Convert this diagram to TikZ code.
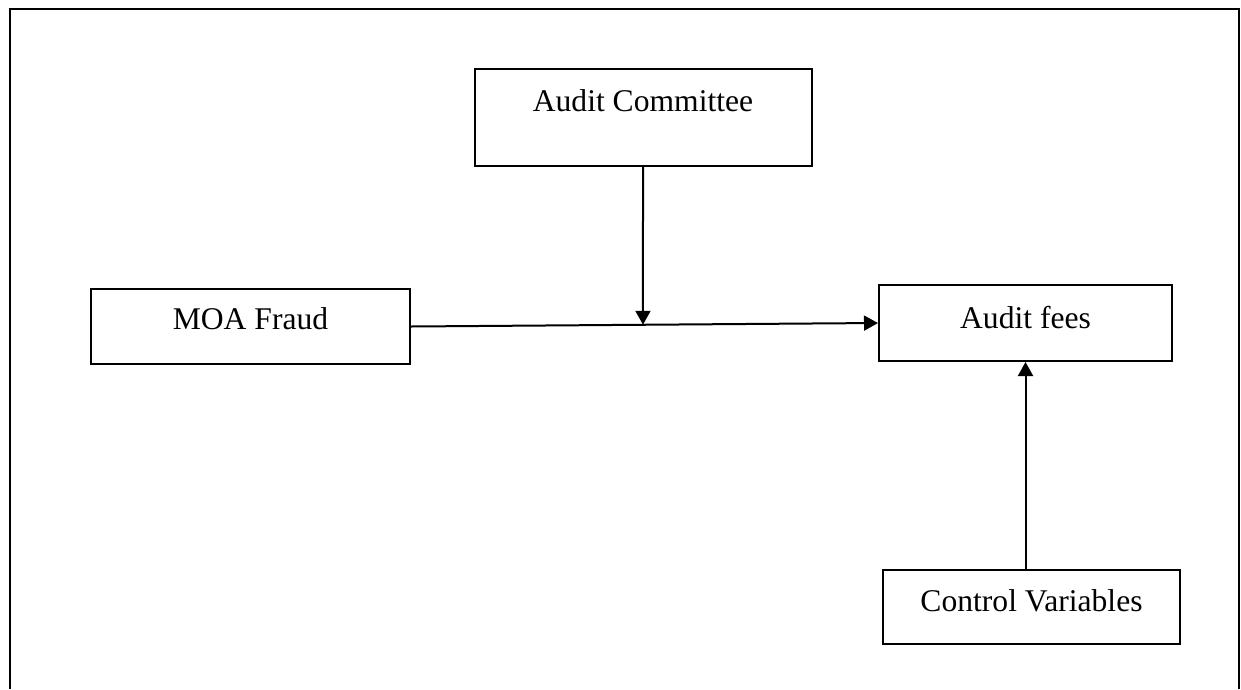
\documentclass[tikz,border=0pt]{standalone}
\usepackage{fontspec}
\setmainfont{Liberation Serif}
\usetikzlibrary{arrows.meta,calc}
\tikzset{
  box/.style={draw, line width=2pt, inner xsep=0pt, inner ysep=0pt, font=\fontsize{31.6}{37}\selectfont},
  link/.style={line width=2pt},
  arr/.style={link, -{Triangle[length=14pt,width=15pt]}},
}
\begin{document}
\begin{tikzpicture}[x=1pt,y=-1pt]
\useasboundingbox (0,0) rectangle (1241,689);
% page frame, open at the bottom
\draw[line width=2.5pt] (10,689) -- (10,9) -- (1239,9) -- (1239,689);

\node[box, minimum width=337pt, text height=42pt, text depth=55pt, anchor=north] (ac) at (643,68) {Audit Committee};
\node[box, minimum width=319pt, text height=40pt, text depth=35pt, anchor=north] (mf) at (250.5,288) {MOA Fraud};
\node[box, minimum width=293pt, text height=43pt, text depth=33pt, anchor=north] (af) at (1025.5,284) {Audit fees};
\node[box, minimum width=297pt, text height=41pt, text depth=33pt, anchor=north] (cv) at (1031.5,569) {Control Variables};

\draw[arr] (mf.east) -- (af.west);
% the moderating arrow meets the main path straight below the committee box
\coordinate (m) at (intersection of ac.south--ac.north and mf.east--af.west);
\draw[arr] (ac.south) -- (m);
\draw[arr] (cv.north -| af.south) -- (af.south);
\end{tikzpicture}
\end{document}
